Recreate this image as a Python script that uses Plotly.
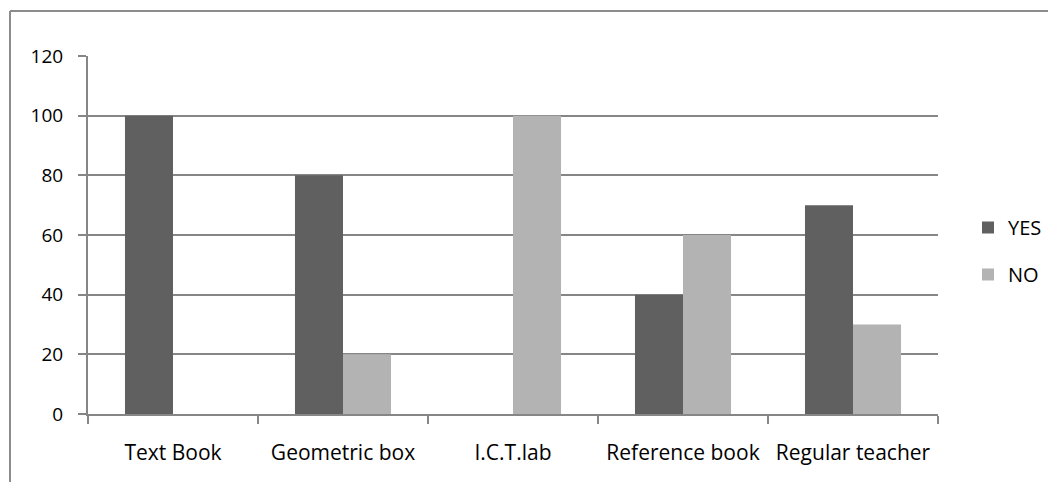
import plotly.graph_objects as go

categories = ["Text Book", "Geometric box", "I.C.T.lab", "Reference book", "Regular teacher"]
yes_values = [100, 80, 0, 40, 70]
no_values = [0, 20, 100, 60, 30]
y_ticks = [0, 20, 40, 60, 80, 100, 120]

# page is rendered with an 8px body margin; keep the whole figure inside the window
OFF = 8
W, H = 1056 - 2 * OFF, 490 - 2 * OFF
L = 88 - OFF
T = 56 - OFF
R = W - (938 - OFF)
B = H - (414 - OFF)
pw, ph = W - L - R, H - T - B

def px(x):  # page x -> paper
    return (x - OFF - L) / pw

def py(y):  # page y -> paper
    return (H - B - (y - OFF)) / ph

FONT = "Open Sans"
fig = go.Figure()
fig.add_trace(go.Bar(name="YES", x=categories, y=yes_values, legendgroup="a",
                     marker=dict(color="#606060", line=dict(width=0))))
fig.add_trace(go.Bar(name="NO", x=categories, y=no_values, legendgroup="b",
                     marker=dict(color="#b3b3b3", line=dict(width=0))))

fig.update_layout(
    width=W, height=H,
    margin=dict(l=L, r=R, t=T, b=B, pad=0, autoexpand=False),
    paper_bgcolor="white", plot_bgcolor="white",
    barmode="group", bargap=0.435, bargroupgap=0,
    font=dict(family=FONT, size=20, color="black"),
    showlegend=True,
    legend=dict(x=px(968), y=py(208), xanchor="left", yanchor="top",
                font=dict(size=20), itemwidth=30, tracegroupgap=18,
                traceorder="grouped", bgcolor="rgba(0,0,0,0)"),
    xaxis=dict(showgrid=False, showline=True, linecolor="#868686", linewidth=2,
               ticks="outside", ticklen=8, tickcolor="#868686", tickwidth=2,
               tickson="boundaries", ticklabelstandoff=19, zeroline=False,
               tickangle=0, automargin=False, tickfont=dict(size=21)),
    yaxis=dict(range=[0, 120], tickvals=y_ticks, showgrid=True, gridcolor="#868686", gridwidth=2,
               showline=True, linecolor="#868686", linewidth=2, zeroline=False,
               ticks="outside", ticklen=8, tickcolor="#868686", tickwidth=2,
               ticklabelstandoff=11, automargin=False, tickfont=dict(size=19)),
    shapes=[
        dict(type="line", xref="paper", yref="paper", x0=px(10), x1=px(1070), y0=py(11), y1=py(11),
             line=dict(color="#8c8c8c", width=2)),
        dict(type="line", xref="paper", yref="paper", x0=px(10), x1=px(10), y0=py(11), y1=py(500),
             line=dict(color="#8c8c8c", width=2)),
    ],
)
fig.write_html("out.html")
